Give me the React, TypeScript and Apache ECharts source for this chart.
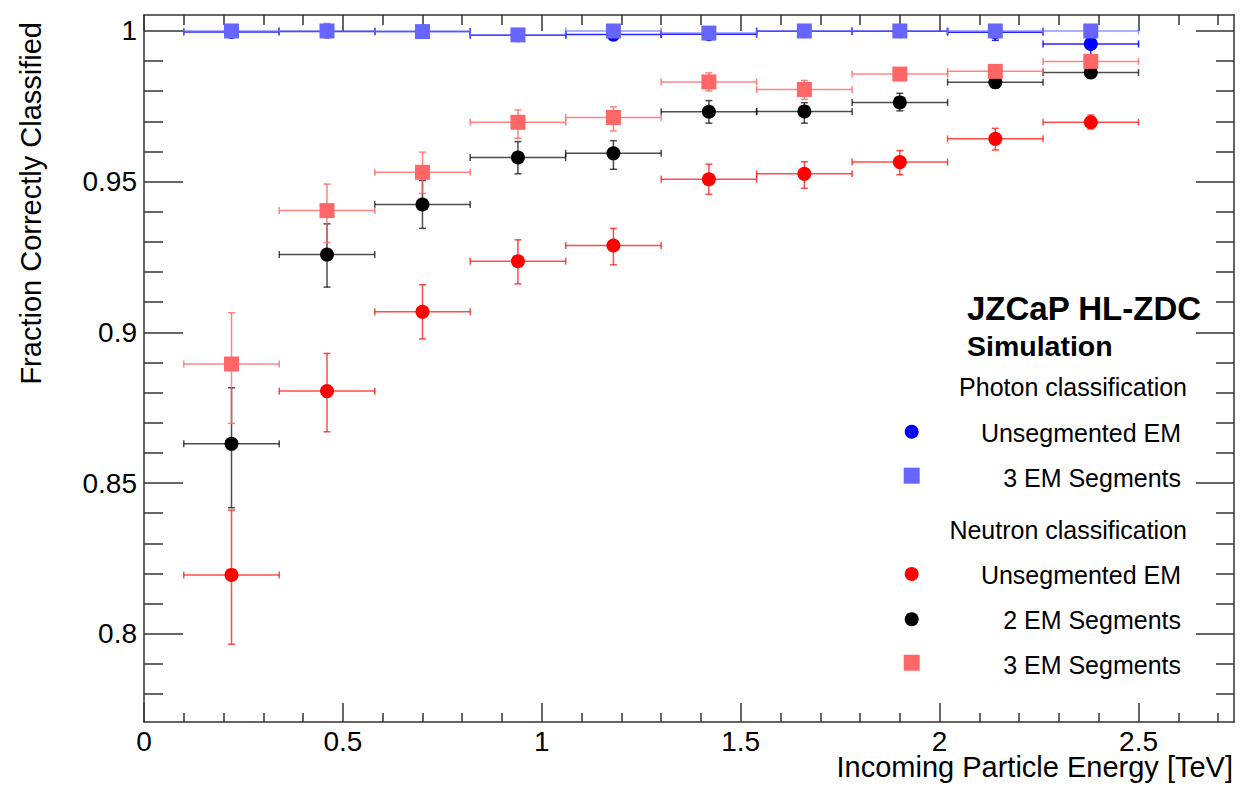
import React, { useEffect, useRef } from "react";
import * as echarts from "echarts";

// ---- Data ----
const binCenters = [0.22, 0.46, 0.7, 0.94, 1.18, 1.42, 1.66, 1.9, 2.14, 2.38];
const binLow = [0.1, 0.34, 0.58, 0.82, 1.06, 1.3, 1.54, 1.78, 2.02, 2.26];
const binHigh = [0.34, 0.58, 0.82, 1.06, 1.3, 1.54, 1.78, 2.02, 2.26, 2.5];

// Photon classification, unsegmented EM (blue circles)
const photonUnseg = [0.9997, 0.9998, 0.9998, 0.9986, 0.9988, 0.9989, 0.9999, 0.9999, 0.9996, 0.9957];
const photonUnsegLo = [0.0003, 0.0003, 0.0003, 0.0006, 0.0006, 0.0006, 0.0002, 0.0002, 0.0027, 0.0055];
const photonUnsegHi = [0.0003, 0.0003, 0.0002, 0.0006, 0.0006, 0.0006, 0.0001, 0.0001, 0.0004, 0.0025];

// Photon classification, 3 EM segments (light-blue squares)
const photon3Seg = [1.0, 1.0, 0.9998, 0.9987, 1.0, 0.9993, 1.0, 1.0, 1.0, 1.0];
const photon3SegLo = [0.0002, 0.0002, 0.0003, 0.0006, 0.0002, 0.0005, 0.0002, 0.0002, 0.0003, 0.0002];
const photon3SegHi = [0.0002, 0.0025, 0.0002, 0.0005, 0.0002, 0.0004, 0.0002, 0.0002, 0.0002, 0.0002];

// Neutron classification, unsegmented EM (red circles)
const neutronUnseg = [0.8195, 0.8805, 0.9068, 0.9236, 0.9288, 0.9508, 0.9526, 0.9565, 0.9642, 0.9697];
const neutronUnsegLo = [0.023, 0.0135, 0.009, 0.0075, 0.0064, 0.005, 0.0048, 0.0042, 0.0037, 0.0022];
const neutronUnsegHi = [0.0215, 0.0125, 0.009, 0.0071, 0.0057, 0.005, 0.004, 0.0038, 0.0035, 0.0024];

// Neutron classification, 2 EM segments (black circles)
const neutron2Seg = [0.863, 0.9258, 0.9424, 0.958, 0.9594, 0.9732, 0.9733, 0.9763, 0.983, 0.9862];
const neutron2SegLo = [0.0212, 0.0108, 0.0079, 0.0054, 0.0053, 0.0038, 0.0039, 0.0028, 0.002, 0.0018];
const neutron2SegHi = [0.0186, 0.0102, 0.008, 0.0053, 0.0042, 0.0037, 0.0029, 0.003, 0.002, 0.0018];

// Neutron classification, 3 EM segments (pink squares)
const neutron3Seg = [0.8895, 0.9404, 0.9531, 0.9697, 0.9713, 0.9831, 0.9806, 0.9857, 0.9866, 0.9899];
const neutron3SegLo = [0.0197, 0.0106, 0.007, 0.0053, 0.0045, 0.003, 0.0033, 0.0015, 0.0015, 0.0012];
const neutron3SegHi = [0.017, 0.0088, 0.0067, 0.0041, 0.0035, 0.003, 0.003, 0.0015, 0.0015, 0.0012];

// Axis ticks
const xMin = 0;
const xMax = 2.74;
const yMin = 0.7707;
const yMax = 1.0053;
const xMajorTicks = [0, 0.5, 1, 1.5, 2, 2.5];
const xMinorTicks = [0.1, 0.2, 0.3, 0.4, 0.6, 0.7, 0.8, 0.9, 1.1, 1.2, 1.3, 1.4, 1.6, 1.7, 1.8, 1.9, 2.1, 2.2, 2.3, 2.4, 2.6, 2.7];
const yMajorTicks = [0.8, 0.85, 0.9, 0.95, 1.0];
const yMinorTicks = [0.78, 0.79, 0.81, 0.82, 0.83, 0.84, 0.86, 0.87, 0.88, 0.89, 0.91, 0.92, 0.93, 0.94, 0.96, 0.97, 0.98, 0.99];

const xTitle = "Incoming Particle Energy [TeV]";
const yTitle = "Fraction Correctly Classified";
const legendTitle = "JZCaP HL-ZDC";
const legendSubtitle = "Simulation";
const photonHeader = "Photon classification";
const neutronHeader = "Neutron classification";
const labelUnseg = "Unsegmented EM";
const label2Seg = "2 EM Segments";
const label3Seg = "3 EM Segments";

const FONT = "'Liberation Sans', Arial, Helvetica, sans-serif";

function errorSeries(name: string, vals: number[], lo: number[], hi: number[], color: string) {
  return {
    type: "custom",
    name,
    xAxisIndex: 0,
    yAxisIndex: 0,
    silent: true,
    clip: true,
    encode: { x: 0, y: 1 },
    data: binCenters.map((x, i) => [x, vals[i], binLow[i], binHigh[i], vals[i] - lo[i], vals[i] + hi[i]]),
    renderItem: (_params: any, api: any) => {
      const x = api.value(0);
      const y = api.value(1);
      const pL = api.coord([api.value(2), y]);
      const pR = api.coord([api.value(3), y]);
      const pB = api.coord([x, api.value(4)]);
      const pT = api.coord([x, api.value(5)]);
      const c = 3.5;
      const style = { stroke: color, lineWidth: 1.5, fill: null };
      const ln = (x1: number, y1: number, x2: number, y2: number) => ({
        type: "line",
        shape: { x1, y1, x2, y2 },
        style,
      });
      return {
        type: "group",
        children: [
          ln(pL[0], pL[1], pR[0], pR[1]),
          ln(pL[0], pL[1] - c, pL[0], pL[1] + c),
          ln(pR[0], pR[1] - c, pR[0], pR[1] + c),
          ln(pB[0], pB[1], pT[0], pT[1]),
          ln(pB[0] - c, pB[1], pB[0] + c, pB[1]),
          ln(pT[0] - c, pT[1], pT[0] + c, pT[1]),
        ],
      };
    },
  };
}

function markerSeries(name: string, vals: number[], symbol: string, size: number, color: string) {
  return {
    type: "scatter",
    name,
    xAxisIndex: 0,
    yAxisIndex: 0,
    symbol,
    symbolSize: size,
    silent: true,
    itemStyle: { color, opacity: 1 },
    data: binCenters.map((x, i) => [x, vals[i]]),
  };
}

function xAxisDef(position: string, ticks: number[], len: number, withLine: boolean, withLabels: boolean) {
  return {
    type: "value",
    position,
    min: xMin,
    max: xMax,
    splitLine: { show: false },
    axisLine: { show: withLine, onZero: false, lineStyle: { color: "#333", width: 1.5 } },
    axisTick: { show: true, inside: true, length: len, customValues: ticks, lineStyle: { color: "#333", width: 1.5 } },
    axisLabel: withLabels
      ? { show: true, customValues: ticks, margin: 5, fontSize: 28, fontFamily: FONT, color: "#000" }
      : { show: false },
  };
}

function yAxisDef(position: string, ticks: number[], len: number, withLine: boolean, withLabels: boolean) {
  return {
    type: "value",
    position,
    min: yMin,
    max: yMax,
    splitLine: { show: false },
    axisLine: { show: withLine, onZero: false, lineStyle: { color: "#333", width: 1.5 } },
    axisTick: { show: true, inside: true, length: len, customValues: ticks, lineStyle: { color: "#333", width: 1.5 } },
    axisLabel: withLabels
      ? {
          show: true,
          customValues: ticks,
          margin: 7,
          fontSize: 28,
          fontFamily: FONT,
          color: "#000",
          formatter: (v: number) => String(Math.round(v * 100) / 100),
        }
      : { show: false },
  };
}

export default function App() {
  const ref = useRef<HTMLDivElement>(null);

  useEffect(() => {
    if (!ref.current) return;
    const chart = echarts.init(ref.current, undefined, { renderer: "svg" });

    const legendX = 911.7;
    const textRight = 1181;
    const headerRight = 1187;
    const mid = (baseline: number, size: number) => baseline - 0.32 * size;

    const option: any = {
      animation: false,
      backgroundColor: "#fff",
      grid: { left: 144, top: 15, right: 7, bottom: 64, containLabel: false, outerBoundsMode: "none" },
      xAxis: [
        xAxisDef("bottom", xMajorTicks, 19, true, true),
        xAxisDef("bottom", xMinorTicks, 9, false, false),
        xAxisDef("top", xMajorTicks, 16, true, false),
        xAxisDef("top", xMinorTicks, 10, false, false),
      ],
      yAxis: [
        yAxisDef("left", yMajorTicks, 39, true, true),
        yAxisDef("left", yMinorTicks, 19, false, false),
        yAxisDef("right", yMajorTicks, 38, true, false),
        yAxisDef("right", yMinorTicks, 18, false, false),
      ],
      series: [
        errorSeries("nU-err", neutronUnseg, neutronUnsegLo, neutronUnsegHi, "rgba(255,0,0,0.7)"),
        markerSeries("Neutron Unsegmented EM", neutronUnseg, "circle", 14, "#ff0000"),
        errorSeries("n2-err", neutron2Seg, neutron2SegLo, neutron2SegHi, "rgba(0,0,0,0.7)"),
        markerSeries("Neutron 2 EM Segments", neutron2Seg, "circle", 14, "#000000"),
        errorSeries("n3-err", neutron3Seg, neutron3SegLo, neutron3SegHi, "rgba(255,102,102,0.8)"),
        markerSeries("Neutron 3 EM Segments", neutron3Seg, "rect", 15, "#ff6666"),
        errorSeries("pU-err", photonUnseg, photonUnsegLo, photonUnsegHi, "rgba(0,0,255,0.85)"),
        markerSeries("Photon Unsegmented EM", photonUnseg, "circle", 14, "#0000ff"),
        errorSeries("p3-err", photon3Seg, photon3SegLo, photon3SegHi, "rgba(102,102,255,0.7)"),
        markerSeries("Photon 3 EM Segments", photon3Seg, "rect", 15, "#6666ff"),
      ],
      graphic: [
        {
          type: "text",
          x: 1233,
          y: mid(776, 29),
          style: { text: xTitle, font: `29px ${FONT}`, fill: "#000", align: "right", verticalAlign: "middle" },
        },
        {
          type: "text",
          x: 31,
          y: 22,
          rotation: Math.PI / 2,
          style: { text: yTitle, font: `29px ${FONT}`, fill: "#000", align: "right", verticalAlign: "middle" },
        },
        {
          type: "text",
          x: 967,
          y: mid(319, 33),
          style: { text: legendTitle, font: `bold 33px ${FONT}`, fill: "#000", align: "left", verticalAlign: "middle" },
        },
        {
          type: "text",
          x: 967,
          y: mid(355, 28.5),
          style: { text: legendSubtitle, font: `bold 28.5px ${FONT}`, fill: "#000", align: "left", verticalAlign: "middle" },
        },
        {
          type: "text",
          x: headerRight,
          y: mid(395, 25),
          style: { text: photonHeader, font: `25px ${FONT}`, fill: "#000", align: "right", verticalAlign: "middle" },
        },
        {
          type: "text",
          x: textRight,
          y: mid(440.7, 25),
          style: { text: labelUnseg, font: `25px ${FONT}`, fill: "#000", align: "right", verticalAlign: "middle" },
        },
        {
          type: "text",
          x: textRight,
          y: mid(485.7, 25),
          style: { text: label3Seg, font: `25px ${FONT}`, fill: "#000", align: "right", verticalAlign: "middle" },
        },
        {
          type: "text",
          x: headerRight,
          y: mid(538.3, 25),
          style: { text: neutronHeader, font: `25px ${FONT}`, fill: "#000", align: "right", verticalAlign: "middle" },
        },
        {
          type: "text",
          x: textRight,
          y: mid(583.3, 25),
          style: { text: labelUnseg, font: `25px ${FONT}`, fill: "#000", align: "right", verticalAlign: "middle" },
        },
        {
          type: "text",
          x: textRight,
          y: mid(628.3, 25),
          style: { text: label2Seg, font: `25px ${FONT}`, fill: "#000", align: "right", verticalAlign: "middle" },
        },
        {
          type: "text",
          x: textRight,
          y: mid(672.7, 25),
          style: { text: label3Seg, font: `25px ${FONT}`, fill: "#000", align: "right", verticalAlign: "middle" },
        },
        { type: "circle", shape: { cx: legendX, cy: 431.7, r: 7 }, style: { fill: "#0000ff" } },
        { type: "rect", shape: { x: legendX - 8, y: 475.7 - 8, width: 16, height: 16 }, style: { fill: "#6666ff" } },
        { type: "circle", shape: { cx: legendX, cy: 574, r: 7 }, style: { fill: "#ff0000" } },
        { type: "circle", shape: { cx: legendX, cy: 619.3, r: 7 }, style: { fill: "#000000" } },
        { type: "rect", shape: { x: legendX - 8, y: 662.7 - 8, width: 16, height: 16 }, style: { fill: "#ff6666" } },
      ],
    };

    chart.setOption(option);
    return () => {
      chart.dispose();
    };
  }, []);

  return (
    <div
      ref={ref}
      style={{ position: "fixed", left: 0, top: 0, width: 1241, height: 786, background: "#fff" }}
    />
  );
}
